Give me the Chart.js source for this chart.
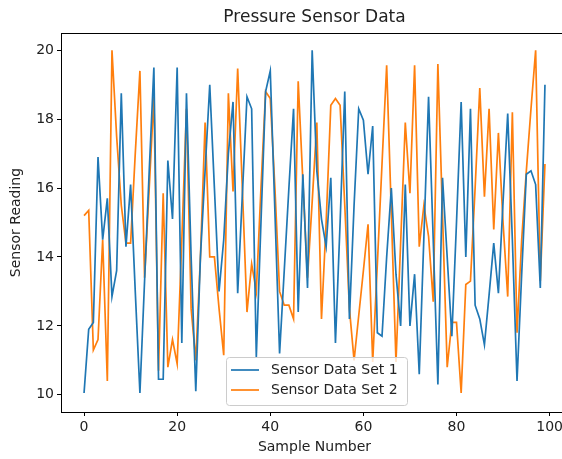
<!DOCTYPE html>
<html><head><meta charset="utf-8">
<script src="https://cdn.jsdelivr.net/npm/chart.js@4/dist/chart.umd.min.js"></script>
<style>
html,body{margin:0;padding:0;overflow:hidden;background:#fff;width:562px;height:459px}
canvas{position:absolute;left:0;top:0}
</style></head>
<body><canvas id="c" width="580" height="459" style="width:580px;height:459px"></canvas>
<script>
const chartTitle = 'Pressure Sensor Data';
const xAxisLabel = 'Sample Number';
const yAxisLabel = 'Sensor Reading';
const seriesNames = ['Sensor Data Set 1', 'Sensor Data Set 2'];
const xTicks = [0, 20, 40, 60, 80, 100];
const yTicks = [10, 12, 14, 16, 18, 20];

const sensorSet1 = [
  10.05, 11.9, 12.1, 16.9, 14.5, 15.7, 12.85, 13.6, 18.75, 14.3,
  16.1, 13.0, 10.05, 13.3, 16.5, 19.5, 10.45, 10.45, 16.8, 15.1,
  19.5, 11.5, 18.75, 14.0, 10.1, 14.0, 16.5, 19.0, 16.0, 13.0,
  14.5, 17.0, 18.5, 12.95, 15.8, 18.65, 18.3, 11.1, 15.0, 18.8,
  19.4, 15.3, 11.2, 13.6, 16.0, 18.3, 12.4, 16.4, 13.1, 20.0,
  16.5, 15.1, 14.3, 16.3, 11.5, 15.0, 18.8, 12.2, 15.5, 18.3,
  17.97, 16.4, 17.8, 11.8, 11.7, 14.0, 16.0, 13.5, 12.0, 16.1,
  12.0, 13.5, 10.6, 14.6, 18.65, 14.5, 10.3, 16.3, 14.0, 11.7,
  15.0, 18.5, 14.0, 18.3, 12.6, 12.2, 11.45, 12.9, 14.4, 12.95,
  15.6, 18.16, 14.5, 10.4, 13.5, 16.4, 16.5, 16.1, 13.1, 19.0
];
const sensorSet2 = [
  15.2, 15.35, 11.3, 11.6, 14.5, 10.4, 20.0, 17.5, 15.5, 14.4,
  14.4, 17.0, 19.4, 13.4, 16.0, 18.65, 10.7, 15.85, 10.8, 11.6,
  10.9, 14.5, 18.3, 12.5, 11.0, 14.0, 17.9, 14.0, 14.0, 12.5,
  11.15, 18.75, 15.9, 19.47, 16.0, 12.4, 13.8, 13.0, 16.0, 18.8,
  18.6, 16.0, 13.0, 12.6, 12.6, 12.2, 19.1, 16.2, 13.4, 15.6,
  17.9, 12.2, 15.0, 18.4, 18.6, 18.4, 15.5, 12.5, 11.0, 12.3,
  13.6, 14.95, 10.95, 13.8, 16.7, 19.56, 15.3, 10.95, 14.4, 17.9,
  15.85, 19.56, 14.3, 15.5, 14.6, 12.7, 19.6, 15.2, 10.8, 12.1,
  12.1, 10.05, 13.2, 13.3, 16.0, 18.9, 15.75, 18.3, 14.8, 17.6,
  15.0, 12.85, 18.2, 11.8, 14.5, 16.5, 18.3, 20.0, 13.3, 16.7
];
const sampleNumbers = sensorSet1.map((_, i) => i);

const FONT = 'DejaVu Sans';
const TXT = '#222';

const toPoints = vals => vals.map((v, i) => ({x: sampleNumbers[i], y: v}));

const framePlugin = {
  id: 'frameAndLegend',
  afterDatasetsDraw(chart) {
    const {ctx, chartArea: a} = chart;
    ctx.save();
    ctx.strokeStyle = '#000';
    ctx.lineWidth = 1;
    ctx.strokeRect(Math.round(a.left) + 0.5, Math.round(a.top) + 0.5, Math.round(a.right - a.left), Math.round(a.bottom - a.top));
    ctx.restore();
  },
  afterDraw(chart) {
    const {ctx, chartArea: a} = chart;
    ctx.save();
    // title
    ctx.fillStyle = TXT;
    ctx.font = '17px "' + FONT + '"';
    ctx.textAlign = 'center';
    ctx.textBaseline = 'middle';
    ctx.fillText(chartTitle, (a.left + a.right) / 2, 18);
    // legend
    const bx = 226.5, by = 357.5, bw = 181, bh = 48, r = 3;
    ctx.beginPath();
    ctx.moveTo(bx + r, by);
    ctx.arcTo(bx + bw, by, bx + bw, by + bh, r);
    ctx.arcTo(bx + bw, by + bh, bx, by + bh, r);
    ctx.arcTo(bx, by + bh, bx, by, r);
    ctx.arcTo(bx, by, bx + bw, by, r);
    ctx.closePath();
    ctx.fillStyle = 'rgba(255,255,255,0.8)';
    ctx.fill();
    ctx.strokeStyle = '#cccccc';
    ctx.lineWidth = 1;
    ctx.stroke();
    chart.data.datasets.forEach((ds, i) => {
      const y = 370 + i * 20;
      ctx.strokeStyle = ds.borderColor;
      ctx.lineWidth = ds.borderWidth;
      ctx.beginPath();
      ctx.moveTo(231, y);
      ctx.lineTo(259, y);
      ctx.stroke();
      ctx.fillStyle = TXT;
      ctx.font = '14px "' + FONT + '"';
      ctx.textAlign = 'left';
      ctx.textBaseline = 'middle';
      ctx.fillText(ds.label, 271, y);
    });
    ctx.restore();
  }
};

new Chart(document.getElementById('c'), {
  type: 'line',
  data: {
    datasets: [
      {label: seriesNames[0], data: toPoints(sensorSet1), borderColor: '#1f77b4', backgroundColor: '#1f77b4', borderWidth: 1.7, pointRadius: 0, tension: 0, fill: false},
      {label: seriesNames[1], data: toPoints(sensorSet2), borderColor: '#ff7f0e', backgroundColor: '#ff7f0e', borderWidth: 1.7, pointRadius: 0, tension: 0, fill: false}
    ]
  },
  options: {
    responsive: false,
    animation: false,
    devicePixelRatio: 1,
    layout: {padding: {left: 0, right: 12, top: 33, bottom: 0}},
    plugins: {legend: {display: false}, title: {display: false}, tooltip: {enabled: false}},
    scales: {
      x: {
        type: 'linear', min: -4.95, max: 103.95,
        afterBuildTicks: s => { s.ticks = xTicks.map(v => ({value: v})); },
        afterFit: s => { s.height = 47; },
        grid: {display: true, drawOnChartArea: false, drawTicks: true, tickLength: 4, color: '#000', tickColor: '#000'},
        border: {display: false},
        ticks: {font: {family: FONT, size: 14}, color: TXT, padding: 3, maxRotation: 0, autoSkip: false},
        title: {display: true, text: xAxisLabel, font: {family: FONT, size: 14}, color: TXT, padding: {top: 0, bottom: 3}}
      },
      y: {
        type: 'linear', min: 9.5, max: 20.5,
        afterBuildTicks: s => { s.ticks = yTicks.map(v => ({value: v})); },
        afterFit: s => { s.width = 61; },
        grid: {display: true, drawOnChartArea: false, drawTicks: true, tickLength: 4, color: '#000', tickColor: '#000'},
        border: {display: false},
        ticks: {font: {family: FONT, size: 14}, color: TXT, padding: 3},
        title: {display: true, text: yAxisLabel, font: {family: FONT, size: 14}, color: TXT, padding: {top: 8, bottom: 0}}
      }
    }
  },
  plugins: [framePlugin]
});
</script>
</body></html>
